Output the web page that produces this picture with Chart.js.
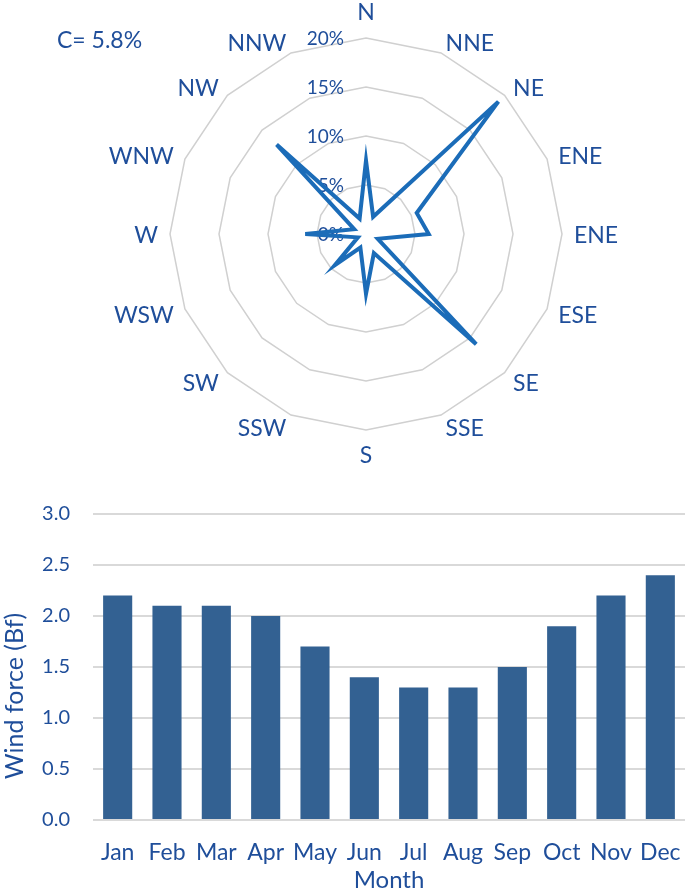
<!DOCTYPE html>
<html>
<head>
<meta charset="utf-8">
<script src="https://cdn.jsdelivr.net/npm/chart.js@4/dist/chart.umd.min.js"></script>
<style>
  html, body { margin: 0; padding: 0; background: #fff; }
  #wrap { position: relative; width: 685px; height: 895px; }
  #roseCanvas { position: absolute; left: 0; top: 0; }
  #barCanvas { position: absolute; left: 0; top: 490px; }
  #calm { position: absolute; left: 57px; top: 25px; font: 23px Lato, sans-serif; color: #1f4e9a; }
</style>
</head>
<body>
<div id="wrap">
  <canvas id="roseCanvas" width="685" height="480"></canvas>
  <div id="calm">C= 5.8%</div>
  <canvas id="barCanvas" width="685" height="405"></canvas>
</div>
<script>
// ── Data ───────────────────────────────────────────────────────────────────
const directions = ['N', 'NNE', 'NE', 'ENE', 'ENE', 'ESE', 'SE', 'SSE',
                    'S', 'SSW', 'SW', 'WSW', 'W', 'WNW', 'NW', 'NNW'];
const windFreq   = [7.5, 1.9, 19.1, 5.6, 6.4, 1.3, 15.9, 2.1,
                    6.1, 1.5, 4.5, 0.9, 6.2, 1.3, 12.9, 1.7];
const freqTicks  = [0, 5, 10, 15, 20];

const months     = ['Jan', 'Feb', 'Mar', 'Apr', 'May', 'Jun',
                    'Jul', 'Aug', 'Sep', 'Oct', 'Nov', 'Dec'];
const windForce  = [2.2, 2.1, 2.1, 2.0, 1.7, 1.4, 1.3, 1.3, 1.5, 1.9, 2.2, 2.4];

const TEXT = '#1f4e9a';
const FONT = 'Lato, sans-serif';

// ── Wind rose labels (Excel style: outside ring, aligned by side) ──────────
const roseLabels = {
  id: 'roseLabels',
  beforeDatasetsDraw(chart) {
    const r = chart.scales.r;
    const ctx = chart.ctx;
    ctx.save();
    ctx.fillStyle = TEXT;
    // radial tick labels left of the vertical axis
    ctx.font = '19px ' + FONT;
    ctx.textAlign = 'right';
    ctx.textBaseline = 'middle';
    freqTicks.forEach(v => {
      const d = r.getDistanceFromCenterForValue(v);
      ctx.fillText(v + '%', r.xCenter - 22, r.yCenter - d + 1);
    });
    ctx.restore();
  },
  afterDraw(chart) {
    const r = chart.scales.r;
    const ctx = chart.ctx;
    const outer = r.getDistanceFromCenterForValue(20);
    ctx.save();
    ctx.fillStyle = TEXT;
    ctx.font = '23px ' + FONT;
    directions.forEach((lbl, i) => {
      const p = r.getPointPosition(i, outer + 12);
      const dx = p.x - r.xCenter;
      const dy = p.y - r.yCenter;
      if (Math.abs(dx) < 2) {
        ctx.textAlign = 'center';
        ctx.textBaseline = dy < 0 ? 'bottom' : 'top';
        ctx.fillText(lbl, p.x, p.y + (dy < 0 ? -2 : 2));
      } else {
        ctx.textAlign = dx > 0 ? 'left' : 'right';
        ctx.textBaseline = 'middle';
        ctx.fillText(lbl, p.x, p.y + 2);
      }
    });
    ctx.restore();
  }
};

new Chart(document.getElementById('roseCanvas'), {
  type: 'radar',
  data: {
    labels: directions,
    datasets: [{
      data: windFreq,
      borderColor: '#1b6cb8',
      borderWidth: 4,
      backgroundColor: 'transparent',
      fill: false,
      pointRadius: 0,
      tension: 0
    }]
  },
  options: {
    responsive: false,
    animation: false,
    layout: { padding: { left: 170, right: 123, top: 38, bottom: 50 } },
    plugins: { legend: { display: false }, tooltip: { enabled: false } },
    scales: {
      r: {
        min: 0,
        max: 20,
        ticks: { stepSize: 5, display: false },
        grid: { color: '#d0d0d0', lineWidth: 1.5 },
        angleLines: { display: false },
        pointLabels: { display: false }
      }
    }
  },
  plugins: [roseLabels]
});

// ── Monthly wind force bars ───────────────────────────────────────────────
// y title sits a bit below the plot middle in the original, so draw it here
const yTitle = {
  id: 'yTitle',
  afterDraw(chart) {
    const y = chart.scales.y;
    const ctx = chart.ctx;
    ctx.save();
    ctx.translate(y.left + 15, (y.top + y.bottom) / 2 + 29);
    ctx.rotate(-Math.PI / 2);
    ctx.fillStyle = TEXT;
    ctx.font = '25px ' + FONT;
    ctx.textAlign = 'center';
    ctx.textBaseline = 'middle';
    ctx.fillText('Wind force (Bf)', 0, 0);
    ctx.restore();
  }
};

new Chart(document.getElementById('barCanvas'), {
  type: 'bar',
  data: {
    labels: months,
    datasets: [{
      data: windForce,
      backgroundColor: '#336192',
      borderWidth: 0,
      categoryPercentage: 1,
      barPercentage: 0.59
    }]
  },
  options: {
    responsive: false,
    animation: false,
    layout: { padding: { left: 0, right: 0, top: 24, bottom: 0 } },
    plugins: { legend: { display: false }, tooltip: { enabled: false } },
    scales: {
      x: {
        afterFit: s => { s.height = 75; s.paddingLeft = 0; s.paddingRight = 0; },
        grid: { display: false },
        border: { display: false },
        ticks: { color: TEXT, font: { family: FONT, size: 23 }, padding: 11, maxRotation: 0, autoSkip: false },
        title: { display: true, text: 'Month', color: TEXT, font: { family: FONT, size: 24 }, padding: { top: 0, bottom: 0 } }
      },
      y: {
        min: 0,
        max: 3,
        afterFit: s => { s.width = 93; s.paddingTop = 0; s.paddingBottom = 0; },
        grid: { color: '#d9d9d9', lineWidth: 2, drawTicks: false },
        border: { display: false },
        ticks: {
          stepSize: 0.5,
          padding: 23,
          color: TEXT,
          font: { family: FONT, size: 20 },
          callback: v => v.toFixed(1)
        }
      }
    }
  },
  plugins: [yTitle]
});
</script>
</body>
</html>
